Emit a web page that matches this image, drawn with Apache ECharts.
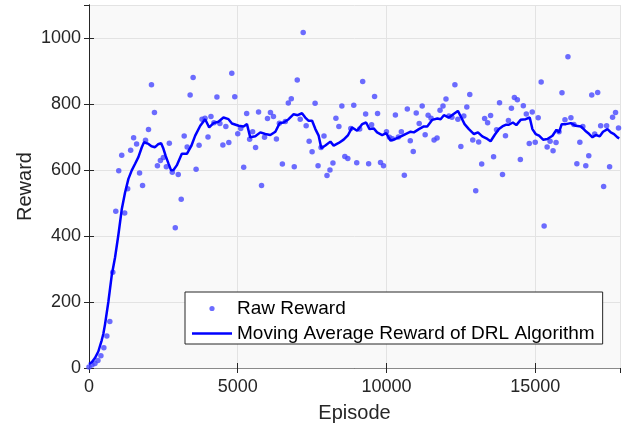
<!DOCTYPE html>
<html lang="en" style="height: 100%">

<head>
  <meta charset="utf-8">
</head>

<body style="height: 100%; margin: 0">
  <div id="container" style="width: 629px; height: 428px"></div>

  <script type="text/javascript" src="https://fastly.jsdelivr.net/npm/echarts@6/dist/echarts.min.js"></script>

  <script type="text/javascript">
    // raw reward, one point every 100 episodes
    var episodeStep = 100
    var rawReward = [
      3, 9, 14, 23, 37, 61, 97, 141, 290, 475,
      598, 645, 470, 543, 660, 698, 679, 591, 553, 690,
      723, 858, 774, 613, 629, 638, 610, 681, 593, 425,
      586, 511, 703, 670, 827, 880, 602, 675, 754, 757,
      700, 762, 743, 821, 741, 676, 732, 683, 893, 822,
      710, 726, 608, 771, 693, 716, 668, 776, 553, 699,
      756, 774, 762, 694, 742, 618, 747, 803, 816, 610,
      873, 754, 1017, 734, 687, 655, 802, 613, 668, 703,
      583, 600, 621, 757, 732, 794, 641, 635, 726, 796,
      622, 724, 868, 770, 619, 737, 823, 771, 623, 613,
      716, 699, 695, 767, 700, 716, 584, 785, 689, 656,
      773, 741, 794, 707, 766, 757, 691, 697, 781, 794,
      815, 764, 760, 858, 754, 671, 764, 791, 829, 691,
      537, 685, 618, 756, 743, 765, 640, 722, 804, 586,
      704, 750, 787, 820, 813, 632, 795, 770, 680, 776,
      684, 758, 867, 430, 670, 687, 658, 683, 716, 834,
      752, 943, 758, 738, 619, 684, 732, 613, 643, 827,
      709, 835, 734, 550, 734, 610, 760, 774, 727
    ]

    // moving average curve, sampled along the drawn line
    var avgEpisode = [
      0, 100, 200, 313, 427, 481, 540, 650, 763, 875,
      987, 1100, 1212, 1325, 1437, 1550, 1660, 1775, 1850, 2000,
      2100, 2220, 2320, 2425, 2500, 2580, 2670, 2760, 2840, 2950,
      3120, 3290, 3435, 3570, 3740, 3905, 4040, 4185, 4350, 4520,
      4690, 4805, 5030, 5195, 5310, 5420, 5590, 5760, 5925, 6095,
      6265, 6410, 6540, 6710, 6880, 7015, 7160, 7270, 7385, 7500,
      7610, 7720, 7810, 7945, 8115, 8225, 8395, 8560, 8710, 8845,
      9015, 9180, 9315, 9430, 9570, 9685, 9855, 9990, 10135, 10300,
      10470, 10640, 10810, 10920, 11090, 11255, 11370, 11540, 11710, 11820,
      11930, 12100, 12245, 12400, 12515, 12625, 12770, 12940, 13075, 13220,
      13390, 13500, 13635, 13780, 13895, 14005, 14115, 14250, 14365, 14510,
      14680, 14815, 14905, 15015, 15130, 15265, 15410, 15580, 15715, 15800,
      15890, 16030, 16195, 16365, 16535, 16680, 16815, 16925, 17040, 17170,
      17280, 17430, 17540, 17650, 17765, 17825
    ]
    var avgReward = [
      12, 18, 30, 50, 84, 103, 133, 200, 280, 335,
      403, 480, 532, 573, 599, 619, 639, 669, 684, 679,
      672, 669, 678, 681, 665, 642, 620, 599, 600, 614,
      649, 649, 672, 704, 734, 754, 729, 742, 746, 759,
      754, 741, 734, 732, 739, 699, 702, 714, 709, 706,
      716, 742, 744, 754, 769, 766, 772, 759, 749, 749,
      724, 704, 666, 674, 686, 674, 682, 692, 706, 729,
      719, 739, 744, 724, 726, 714, 706, 712, 689, 694,
      701, 709, 716, 714, 724, 732, 732, 752, 756, 754,
      766, 759, 769, 779, 759, 739, 724, 709, 714, 702,
      694, 687, 706, 724, 732, 737, 737, 744, 736, 752,
      754, 759, 724, 709, 704, 692, 694, 704, 722, 714,
      739, 739, 742, 734, 732, 719, 709, 699, 706, 702,
      716, 724, 714, 709, 699, 696
    ]

    var xTicks = { min: 0, max: 17850, interval: 5000 }
    var yTicks = { min: 0, max: 1100, interval: 200 }

    var dom = document.getElementById('container');
    var myChart = echarts.init(dom, null, { renderer: 'canvas' });

    var fontName = 'Liberation Sans'
    var axisColor = '#262626'
    var plain = function (v) { return String(v) }

    var option = {
      animation: false,
      textStyle: { fontFamily: fontName },
      grid: {
        left: 89,
        right: 9,
        top: 5,
        bottom: 57,
        show: true,
        backgroundColor: '#f9f9f9',
        borderWidth: 0
      },
      legend: {
        orient: 'vertical',
        left: 185,
        top: 292,
        itemWidth: 40,
        itemHeight: 14,
        itemGap: 6,
        padding: [7, 8, 1, 7],
        backgroundColor: '#ffffff',
        borderColor: '#262626',
        borderWidth: 1,
        borderRadius: 0,
        textStyle: { fontSize: 19, color: '#000', fontFamily: fontName },
        data: [
          {
            name: 'Raw Reward',
            // small dot centred in a 40x14 box
            icon: 'path://M0,0M40,14M22.6,7A2.6,2.6,0,1,1,17.4,7A2.6,2.6,0,1,1,22.6,7Z',
            itemStyle: { color: '#4747ff', borderWidth: 0 }
          },
          {
            name: 'Moving Average Reward of DRL Algorithm',
            icon: 'path://M0,0H40V2.5H0Z',
            itemStyle: { color: '#0000ff', borderWidth: 0 }
          }
        ]
      },
      xAxis: [
        {
          type: 'value',
          min: xTicks.min,
          max: xTicks.max,
          interval: xTicks.interval,
          name: 'Episode',
          nameLocation: 'middle',
          nameGap: 35,
          nameTextStyle: { fontSize: 20, color: axisColor, fontFamily: fontName },
          axisLine: { lineStyle: { color: axisColor, width: 1 } },
          axisTick: { inside: true, length: 5, lineStyle: { color: axisColor } },
          axisLabel: { fontSize: 18, color: axisColor, margin: 10, showMaxLabel: false, formatter: plain },
          splitLine: { show: true, lineStyle: { color: '#e3e3e3', width: 1 } }
        },
        {
          type: 'value',
          position: 'top',
          min: xTicks.min,
          max: xTicks.max,
          interval: xTicks.interval,
          axisLine: { show: true, lineStyle: { color: '#8a8a8a', width: 1 } },
          axisTick: { inside: true, length: 5, lineStyle: { color: axisColor } },
          axisLabel: { show: false },
          splitLine: { show: false }
        }
      ],
      yAxis: [
        {
          type: 'value',
          min: yTicks.min,
          max: yTicks.max,
          interval: yTicks.interval,
          name: 'Reward',
          nameLocation: 'middle',
          nameGap: 54,
          nameMoveOverlap: false,
          nameTextStyle: { fontSize: 20, color: axisColor, fontFamily: fontName },
          axisLine: { show: true, lineStyle: { color: axisColor, width: 1 } },
          axisTick: { show: true, inside: true, length: 5, lineStyle: { color: axisColor } },
          axisLabel: { fontSize: 18, color: axisColor, margin: 8, showMaxLabel: false, formatter: plain },
          splitLine: { show: true, lineStyle: { color: '#e3e3e3', width: 1 } }
        },
        {
          type: 'value',
          position: 'right',
          min: yTicks.min,
          max: yTicks.max,
          interval: yTicks.interval,
          axisLine: { show: true, lineStyle: { color: axisColor, width: 1 } },
          axisTick: { show: true, inside: true, length: 5, lineStyle: { color: axisColor } },
          axisLabel: { show: false },
          splitLine: { show: false }
        }
      ],
      series: [
        {
          name: 'Raw Reward',
          type: 'scatter',
          symbol: 'circle',
          symbolSize: 5.5,
          itemStyle: { color: '#4747ff' },
          data: rawReward.map((v, i) => [i * episodeStep, v])
        },
        {
          name: 'Moving Average Reward of DRL Algorithm',
          type: 'line',
          symbol: 'none',
          showSymbol: false,
          lineStyle: { color: '#0000ff', width: 2.5 },
          itemStyle: { color: '#0000ff' },
          data: avgEpisode.map((e, i) => [e, avgReward[i]])
        }
      ]
    };

    myChart.setOption(option);
    window.addEventListener('resize', myChart.resize);
  </script>
</body>

</html>
